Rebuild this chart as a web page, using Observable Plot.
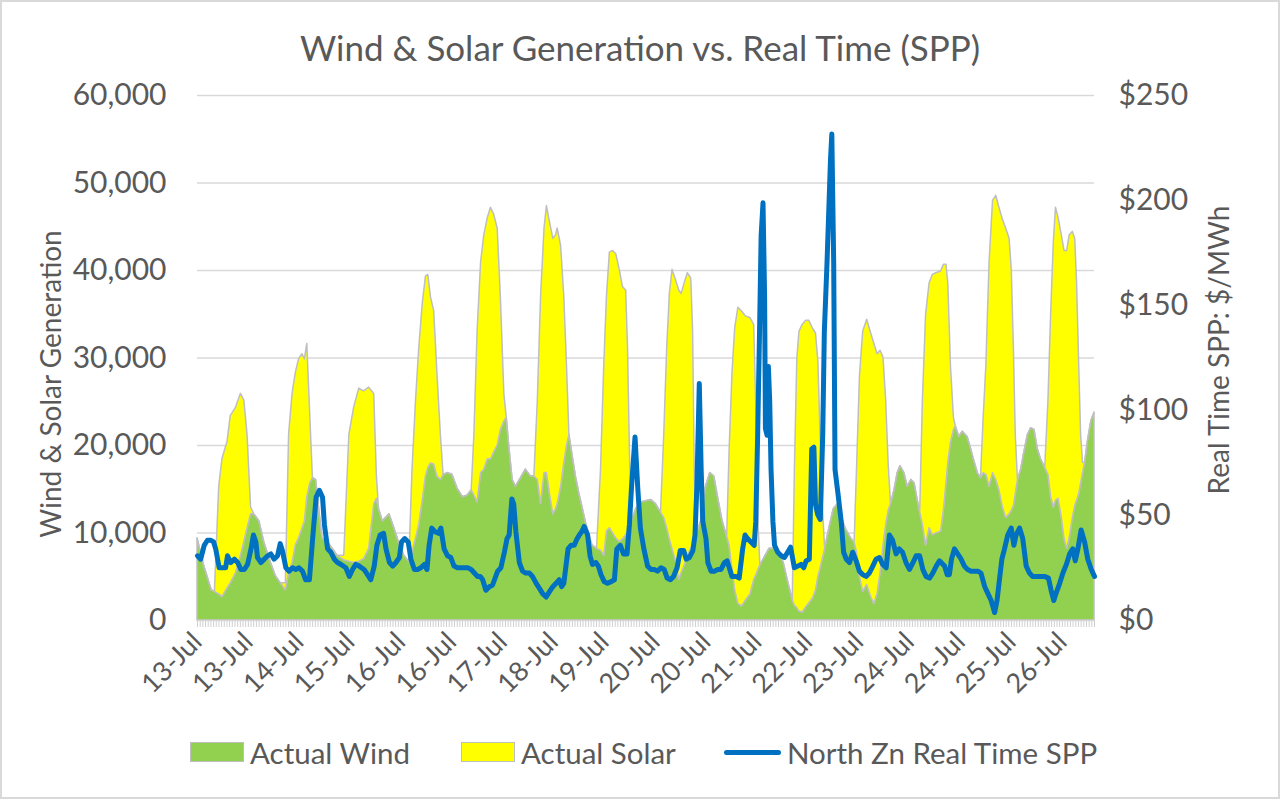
<!DOCTYPE html>
<html lang="en">
<head>
<meta charset="utf-8">
<title>Wind &amp; Solar Generation vs. Real Time (SPP)</title>
<script src="https://cdn.jsdelivr.net/npm/d3@7"></script>
<script src="https://cdn.jsdelivr.net/npm/@observablehq/plot@0.6"></script>
<style>
  body { margin: 0; background: #fff; }
  #grafica {
    position: relative; width: 1280px; height: 799px; overflow: hidden;
    font-family: Lato, "Open Sans", sans-serif; color: #595959; background: #fff;
  }
  #grafica .marco { position: absolute; inset: 0; border: 2px solid #d9d9d9; pointer-events: none; }
  #titulo { position: absolute; left: 0; right: 0; top: 26px; text-align: center; font-size: 35px; line-height: 42px; }
  #plot { position: absolute; left: 0; top: 80px; }
  .eje-titulo {
    position: absolute; font-size: 28px; line-height: 32px; white-space: nowrap;
    transform: translate(-50%, -50%) rotate(-90deg);
  }
  .leyenda-item {
    position: absolute; top: 733px; height: 38px; display: flex; align-items: center;
    font-size: 29.5px; white-space: nowrap;
  }
  .leyenda-item i { display: inline-block; box-sizing: border-box; margin-right: 6px; }
</style>
</head>
<body>
<div id="grafica">
  <div id="titulo">Wind &amp; Solar Generation vs. Real Time (SPP)</div>
  <div id="plot"></div>
  <div class="eje-titulo" style="left:50px; top:384px">Wind &amp; Solar Generation</div>
  <div class="eje-titulo" style="left:1218px; top:350px">Real Time SPP: $/MWh</div>
  <div id="leyenda"></div>
  <div class="marco"></div>
</div>
<script>
// Xeración eólica e solar (MW, apiladas) e prezo horario en tempo real ($/MWh),
// 13-26 xul, 336 horas. Valores lidos da gráfica orixinal.

const SERIES = ["Actual Wind", "Actual Solar"];
const CORES = ["#92D050", "#FFFF00"];
const SERIE_PREZO = "North Zn Real Time SPP";

// horas desde o inicio (0 = primeira hora do 13-Jul)
const horas = [
  0, 2.5, 5.3, 6.5, 8.1, 9.3, 11.2, 12.4, 14.4, 16.2,
  17.5, 18.7, 20.0, 21.2, 23.1, 24.9, 27.4, 29.3, 31.1, 33.0,
  34.2, 35.5, 36.7, 37.9, 39.2, 40.1, 41.0, 42.1, 43.1, 44.3,
  45.5, 46.7, 48.6, 50.5, 52.3,
  54.8, 56.7, 58.5, 60.4, 62.2, 64.1, 66.0, 67.0, 67.8, 69.2,
  71.7, 73.5, 75.4, 77.2, 79.1, 80.3, 81.6, 82.8, 84.1, 85.3,
  86.2, 87.2, 88.4, 89.6, 90.9, 91.9, 93.4, 95.2, 97.1, 99.1,
  100.9, 102.4, 103.4, 104.6, 105.9, 107.1, 108.4, 109.6, 110.8,
  112.1, 113.3, 114.6, 115.5, 116.4, 117.7, 118.9, 120.8, 122.6, 124.5,
  125.8, 127.1, 128.3, 129.6, 130.5, 131.6, 132.9, 133.9, 134.5, 135.8,
  137.0, 138.0, 138.9, 140.1, 141.3, 142.6, 143.8, 145.1, 146.3, 147.5,
  149.2, 150.7, 151.9, 152.9, 154.0, 155.2, 156.4, 157.7, 158.9, 160.1,
  160.8, 161.5, 162.2, 163.8, 165.6,
  169.4, 171.2, 173.1, 174.3, 175.4, 176.4, 177.4, 178.7, 179.9, 180.8,
  181.9, 183.1, 184.4, 185.1, 185.7, 186.3, 188.1, 189.9, 191.5, 193.0,
  194.5, 196.1, 197.8, 198.7, 199.8, 200.8, 202.0, 203.3, 204.8, 206.5,
  207.9, 208.8, 209.5, 210.2, 211.8, 213.6, 215.5, 217.3, 218.9, 220.4,
  222.3, 223.1, 224.0, 224.8, 226.0, 227.3, 228.5, 229.8, 231.0, 231.9,
  232.6, 233.5, 234.4, 236.0, 237.6, 239.2, 240.6, 242.3, 244.1, 245.4,
  246.3, 247.4, 248.6, 250.1, 251.6, 252.8, 254.0, 255.1, 256.2, 257.2,
  258.1, 259.0, 260.3, 261.5, 262.5, 264.0, 265.2, 266.6, 267.8, 269.0,
  269.9, 270.9, 272.1, 273.4, 274.6, 275.9,
  277.7, 278.8, 279.7, 280.4, 281.4, 282.5, 283.2, 284.5, 285.8, 287.6,
  288.9, 290.1, 291.4, 292.6, 293.6, 294.6, 295.8, 297.1, 298.3, 299.5,
  300.8, 302.0, 303.3, 304.1, 304.9, 305.6, 306.4, 307.6, 308.8, 310.1,
  311.3, 312.6, 313.8, 315.0, 316.6, 317.8, 318.8, 319.8, 320.6, 321.6,
  322.8, 323.8, 324.8, 325.7, 326.9, 327.8, 328.5, 329.3, 330.0, 330.7,
  331.5, 332.5, 333.8, 335.0
];

const eolicaMW = [
  9370, 6220, 3460, 3270, 2990, 2680, 3660, 4250, 5430, 7400,
  8980, 10550, 12130, 12130, 11340, 8980, 6610, 5040, 4250, 3460,
  5430, 6610, 8580, 9370, 10550, 11340, 14090, 15670, 16260, 16060,
  12520, 9370, 8980, 8190, 7400,
  6890, 6730, 6610, 6730, 7010, 8190, 13310, 13900, 12720, 11340,
  12130, 10550, 8780, 7400, 6690, 7800, 9370, 10940, 13700, 16460,
  17440, 17950, 17830, 16460, 16060, 16650, 16850, 16650, 15080, 14090,
  14290, 14880, 14290, 13500, 16850, 17240, 18430, 18430, 19210,
  20000, 21780, 22760, 23150, 20000, 16060, 15280, 16260, 17240, 16460,
  16460, 16060, 13310, 16850, 16850, 14490, 12130, 12720, 13310, 15280,
  18030, 20000, 21180, 18820, 16460, 14490, 12910, 11140, 9760, 8580,
  8190, 7990, 7400, 10160, 10550, 9960, 9370, 8980, 9290, 9760,
  10160, 10750, 11340, 12720, 13500,
  13780, 13310, 12320, 11730, 10550, 9250, 8190, 6810, 4650, 5430,
  6220, 7400, 8190, 8780, 9370, 9760, 11340, 15280, 16850, 16460,
  13900, 11340, 9570, 8580, 5830, 3460, 1890, 1610, 2280, 2990,
  4650, 5240, 5830, 6300, 7200, 8190, 8190, 7800, 6610, 4650,
  2280, 1690, 1420, 1020, 910, 1500, 1970, 2480, 3460, 5040,
  5830, 7010, 8190, 10550, 12720, 13310, 11730, 10350, 9370, 8900,
  7800, 5040, 3270, 4060, 2680, 1890, 3070, 5430, 8580, 10940,
  12520, 13310, 14880, 16850, 17640, 16850, 15280, 16060, 15670, 13700,
  12320, 10940, 8580, 10550, 9760, 9960,
  10160, 12720, 15670, 18030, 20390, 21770, 22170, 20980, 21570, 20980,
  19610, 18230, 16850, 16260, 16850, 16650, 15280, 16850, 16060, 14880,
  12910, 11730, 12130, 12520, 13110, 14490, 16060, 17240, 19210, 21180,
  21970, 21770, 19610, 18430, 17440, 16650, 14090, 12910, 13700, 13900,
  11730, 9370, 8190, 9370, 11730, 13110, 13700, 14490, 15670, 16850,
  18030, 20390, 22760, 23740
];

const solarMW = [
  0, 0, 0, 0, 12290, 15750, 16730, 19100, 18900, 18500,
  16140, 10630, 780, 0, 0, 0, 0, 0, 0, 790,
  15750, 19290, 19690, 20470, 19880, 18500, 17520, 7870, 0, 0,
  0, 0, 0, 0, 0,
  510, 14450, 17720, 19770, 19170, 18420, 12590, 2560, 0, 0,
  0, 0, 0, 0, 0, 9440, 15750, 20080, 22440, 22830,
  22050, 18980, 17520, 11810, 5120, 0, 0, 0, 0, 0,
  0, 0, 6890, 19490, 24020, 26770, 27550, 28740, 27170,
  24800, 15150, 3140, 0, 0, 0, 0, 0, 0, 0,
  0, 9060, 23620, 27950, 30510, 31100, 31490, 31290, 31490, 27550,
  18900, 9060, 0, 0, 0, 0, 0, 0, 0, 0,
  0, 9250, 21660, 26770, 31500, 32280, 32480, 31100, 28820, 27960,
  20860, 8460, 0, 0, 0,
  0, 0, 0, 9450, 20470, 28070, 31890, 32090, 33070, 31890,
  32280, 32290, 30900, 24210, 7870, 0, 0, 0, 0, 0,
  0, 0, 0, 10630, 22440, 29930, 33860, 33740, 32480, 31580,
  29130, 17910, 5510, 0, 0, 0, 0, 0, 0, 0,
  0, 15550, 28420, 31970, 32870, 32750, 32280, 30910, 29340, 24410,
  16140, 6300, 0, 0, 0, 0, 0, 0, 0, 0,
  9440, 22830, 29720, 30310, 30120, 29720, 27360, 25400, 21460, 14180,
  5510, 0, 0, 0, 0, 0, 0, 0, 0, 0,
  0, 14180, 26380, 27950, 29730, 29730,
  29720, 27950, 25000, 20470, 8670, 1380, 0, 0, 0, 0,
  0, 0, 0, 0, 6300, 12410, 25590, 31100, 32480, 32290,
  32880, 33070, 31490, 27560, 17910, 6690, 0, 0, 0, 0,
  0, 0, 0, 0, 0, 8470, 20870, 30320, 33470, 32080,
  32280, 32870, 34050, 34640, 32680, 30510, 24800, 14570, 5510, 1180,
  0, 0, 0, 0
];

const prezoHoras = [
  0, 1.2, 2.5, 3.7, 5.0, 6.0, 6.8, 8.1, 9.3, 10.5,
  11.2, 12.4, 13.8, 15.0, 16.2, 17.5, 18.7, 20.0, 20.9, 21.8,
  22.4, 23.7, 24.9, 26.2, 27.4, 28.6, 29.9, 30.9, 31.7, 33.0,
  34.2, 35.5, 36.7, 37.9, 39.2, 40.4, 41.8, 43.0, 44.3, 45.5,
  46.7, 47.4, 48.6, 49.8, 51.1, 52.3, 53.6,
  55.4, 56.7, 57.9, 59.1, 60.4, 62.2, 63.5, 64.7, 66.0, 67.0,
  68.2, 69.5, 70.4, 71.7, 72.9, 74.1, 75.4, 76.2, 77.4, 78.7,
  79.7, 81.0, 82.2, 83.4, 84.7, 85.7, 86.5, 87.5, 88.7, 90.0,
  90.9, 92.1, 93.4, 94.6, 95.8, 97.1, 98.4, 99.7, 100.9, 102.2,
  103.4, 104.6, 105.6, 106.5, 107.7, 109.0, 110.2,
  112.1, 113.3, 114.6, 115.6, 116.4, 117.4, 118.1, 118.9, 120.2, 121.4,
  122.6, 123.9, 125.1, 126.5, 127.7, 128.9, 130.2, 131.4, 132.7, 133.9,
  135.1, 136.0, 136.8, 137.6, 138.4, 139.5, 140.7, 141.8, 142.6, 143.5,
  144.4, 145.7, 146.6, 147.5, 148.8, 149.7, 150.7, 151.9, 153.1, 154.5,
  155.7, 156.6, 157.9, 159.1, 160.4, 161.3, 162.1, 163.4, 164.4, 165.4,
  166.7,
  168.1, 169.4, 170.6, 171.8, 173.1, 174.3, 175.4, 176.6, 177.8, 179.1,
  180.3, 181.6, 182.5, 183.7, 185.0, 185.8, 186.5, 187.4, 188.1, 188.7,
  189.9, 190.6, 191.8, 193.0, 194.3, 195.5, 196.8, 197.8, 198.6, 199.6,
  201.1, 202.3, 203.6, 204.5, 205.4, 206.7, 207.9, 208.5, 209.2, 209.9,
  210.5, 211.2, 211.8, 212.1, 212.7, 213.2, 213.7, 214.2, 214.9, 215.5,
  216.7, 218.0, 219.2, 220.4, 221.5,
  222.9, 224.2, 225.4, 226.4, 227.3, 228.5, 229.4, 230.2, 230.8, 231.6,
  232.6, 233.5, 234.1, 235.1, 236.4, 236.9, 237.6, 238.1, 239.2, 240.4,
  241.3, 242.3, 243.5, 244.7, 246.0, 247.2, 248.5, 249.7, 250.9, 252.2,
  253.4, 254.7, 255.9, 257.2, 258.4, 259.6, 260.9, 262.1, 263.3, 264.6,
  265.9, 267.2, 268.4, 269.7, 270.9, 272.1, 273.4, 274.6, 275.9, 277.1,
  279.0, 280.0, 280.8, 281.6, 282.7, 283.9, 285.2, 286.4, 287.6, 288.9,
  290.1, 291.4, 292.6, 294.0, 295.2, 296.4, 297.7, 298.6, 299.5, 300.4,
  301.4, 302.6, 303.9, 304.9, 305.7, 307.0, 308.2, 309.5, 310.7, 311.9,
  313.2, 314.4, 316.3, 317.8, 318.8, 319.8, 320.6, 322.0, 323.2, 324.5,
  325.7, 326.9, 327.8, 328.8, 330.0, 331.3, 332.5, 333.8, 335.0
];

const prezoUSD = [
  30.8, 29.2, 35.8, 38.2, 38.2, 37.4, 34.1, 25.1, 25.1, 25.1,
  30.8, 27.6, 29.2, 27.6, 24.3, 24.3, 26.7, 34.1, 40.7, 37.4,
  30.0, 27.6, 29.2, 30.8, 31.7, 29.2, 30.8, 36.6, 33.3, 25.1,
  23.5, 25.1, 24.3, 25.1, 23.5, 19.4, 19.4, 39.0, 58.7, 62.0,
  58.7, 45.6, 34.1, 32.5, 29.2, 27.6, 26.7,
  25.1, 21.0, 24.3, 26.7, 25.9, 24.3, 21.8, 19.4, 25.9, 35.8,
  40.7, 41.5, 34.1, 27.6, 25.9, 27.6, 30.0, 37.4, 39.0, 37.4,
  29.2, 24.3, 24.3, 25.1, 26.7, 24.3, 35.8, 44.0, 42.3, 41.5,
  44.0, 34.1, 30.8, 30.0, 25.9, 25.1, 25.1, 25.1, 25.1, 24.3,
  22.6, 21.0, 21.0, 19.4, 14.4, 16.1, 16.9,
  23.5, 25.1, 32.5, 39.0, 40.7, 57.9, 55.4, 42.3, 27.6, 23.5,
  22.6, 22.6, 21.0, 17.7, 15.3, 12.8, 11.2, 13.6, 16.1, 17.7,
  19.4, 16.1, 17.7, 25.9, 34.1, 35.8, 35.8, 39.0, 40.7, 42.3,
  44.8, 40.7, 30.8, 26.7, 27.6, 25.9, 21.8, 18.5, 17.7, 18.5,
  19.4, 34.1, 35.8, 31.7, 31.7, 45.6, 63.6, 87.4, 63.6, 44.0,
  34.1,
  25.9, 24.3, 24.3, 23.5, 25.1, 24.3, 20.2, 19.4, 21.0, 25.1,
  33.3, 33.3, 29.2, 30.0, 33.3, 40.7, 63.6, 112.8, 71.8, 47.2,
  39.0, 27.6, 23.5, 23.5, 24.3, 24.3, 27.6, 28.4, 25.1, 21.0,
  21.0, 20.2, 34.1, 40.7, 39.0, 37.4, 35.8, 47.2, 88.2, 137.4,
  183.4, 198.9, 153.8, 91.5, 88.2, 121.0, 104.6, 71.8, 47.2, 35.8,
  32.5, 30.8, 30.0, 32.5, 34.9,
  25.1, 25.9, 26.7, 25.1, 28.4, 29.2, 81.7, 82.5, 55.4, 50.5,
  48.1, 88.2, 137.4, 170.2, 219.4, 231.7, 170.2, 71.8, 60.4, 47.2,
  32.5, 29.2, 27.6, 32.5, 28.4, 23.5, 21.8, 21.0, 22.6, 25.9,
  29.2, 30.0, 26.7, 25.1, 40.7, 38.2, 31.7, 34.1, 32.5, 27.6,
  24.3, 27.6, 30.8, 30.8, 24.3, 21.0, 20.2, 22.6, 25.9, 28.4,
  25.9, 21.8, 21.8, 29.2, 34.1, 31.7, 29.2, 25.9, 24.3, 23.5,
  23.5, 23.5, 22.6, 16.1, 12.8, 9.5, 3.8, 9.5, 19.4, 29.2,
  34.1, 40.7, 44.0, 35.8, 40.7, 44.0, 39.0, 25.9, 22.6, 21.0,
  21.0, 21.0, 21.0, 20.2, 14.4, 9.5, 12.8, 17.7, 22.6, 26.7,
  31.7, 34.1, 28.4, 34.1, 43.1, 37.4, 29.2, 24.3, 21.0
];

// etiquetas do eixo de categorías: unha cada 19 horas
const etiquetasX = [
  "13-Jul", "13-Jul", "14-Jul", "15-Jul", "16-Jul", "16-Jul", "17-Jul", "18-Jul", "19-Jul",
  "20-Jul", "20-Jul", "21-Jul", "22-Jul", "23-Jul", "24-Jul", "24-Jul", "25-Jul", "26-Jul"
];
const ticksMW = [0, 10000, 20000, 30000, 40000, 50000, 60000];
const ticksUSD = [0, 50, 100, 150, 200, 250];

(function () {
  if (horas.length !== eolicaMW.length || horas.length !== solarMW.length)
    console.error("lonxitudes distintas", horas.length, eolicaMW.length, solarMW.length);
  if (prezoHoras.length !== prezoUSD.length)
    console.error("prezo: lonxitudes distintas", prezoHoras.length, prezoUSD.length);

  // o prezo comparte o eixo y: $250 <-> 60,000 MW
  const K = 60000 / 250;
  const PASO = 19;
  const horasEtiqueta = etiquetasX.map((_, i) => i * PASO);

  const filas = [
    ...horas.map((h, i) => ({ hora: h, serie: SERIES[0], mw: eolicaMW[i] })),
    ...horas.map((h, i) => ({ hora: h, serie: SERIES[1], mw: solarMW[i] })),
  ];
  const prezos = prezoHoras.map((h, i) => ({ hora: h, usd: prezoUSD[i] }));

  const grafica = Plot.plot({
    width: 1280,
    height: 640,
    marginLeft: 197,
    marginRight: 186,
    marginTop: 15,
    marginBottom: 100,
    style: {
      background: "transparent",
      color: "#595959",
      fontFamily: "Lato, 'Open Sans', sans-serif",
      fontSize: "30px",
      overflow: "visible",
    },
    x: { domain: [0, 335] },
    y: { domain: [0, 60000] },
    color: { domain: SERIES, range: CORES },
    marks: [
      Plot.gridY(ticksMW.slice(1), { stroke: "#d9d9d9", strokeOpacity: 1, strokeWidth: 1.3 }),
      Plot.areaY(filas, {
        x: "hora",
        y: "mw",
        z: "serie",
        fill: "serie",
        stroke: "#bfbfbf",
        strokeWidth: 1.5,
        strokeLinejoin: "round",
      }),
      Plot.ruleY([0], { stroke: "#d9d9d9", strokeWidth: 1.3 }),
      Plot.lineY(prezos, {
        x: "hora",
        y: (d) => d.usd * K,
        stroke: "#0070C0",
        strokeWidth: 5,
        strokeLinejoin: "round",
        strokeLinecap: "round",
      }),
      Plot.axisY({ ticks: ticksMW, tickFormat: d3.format(","), tickSize: 0, tickPadding: 31, label: null }),
      Plot.axisY({
        anchor: "right",
        ticks: ticksUSD.map((v) => v * K),
        tickFormat: (d) => "$" + Math.round(d / K),
        tickSize: 0,
        tickPadding: 24,
        label: null,
      }),
      // marcas de categoría (unha por hora)
      Plot.axisX({ ticks: d3.range(0, 336), tickFormat: () => "", tickSize: 7, stroke: "#d0d0d0", label: null }),
      Plot.axisX({
        ticks: horasEtiqueta,
        tickFormat: (d) => etiquetasX[Math.round(d / PASO)],
        tickRotate: -45,
        tickSize: 0,
        tickPadding: 17,
        fontSize: 27,
        label: null,
      }),
    ],
  });
  document.getElementById("plot").appendChild(grafica);

  // lenda
  const lenda = document.getElementById("leyenda");
  const items = [
    { nome: SERIES[0], x: 190, sw: `width:54px;height:20px;background:${CORES[0]};border:1.5px solid #bfbfbf` },
    { nome: SERIES[1], x: 461, sw: `width:54px;height:20px;background:${CORES[1]};border:1.5px solid #bfbfbf` },
    { nome: SERIE_PREZO, x: 724, sw: "width:57px;height:5px;background:#0070C0;border-radius:3px" },
  ];
  items.forEach((it) => {
    const d = document.createElement("div");
    d.className = "leyenda-item";
    d.style.left = it.x + "px";
    d.innerHTML = `<i style="${it.sw}"></i>${it.nome}`;
    lenda.appendChild(d);
  });
})();
</script>
</body>
</html>
